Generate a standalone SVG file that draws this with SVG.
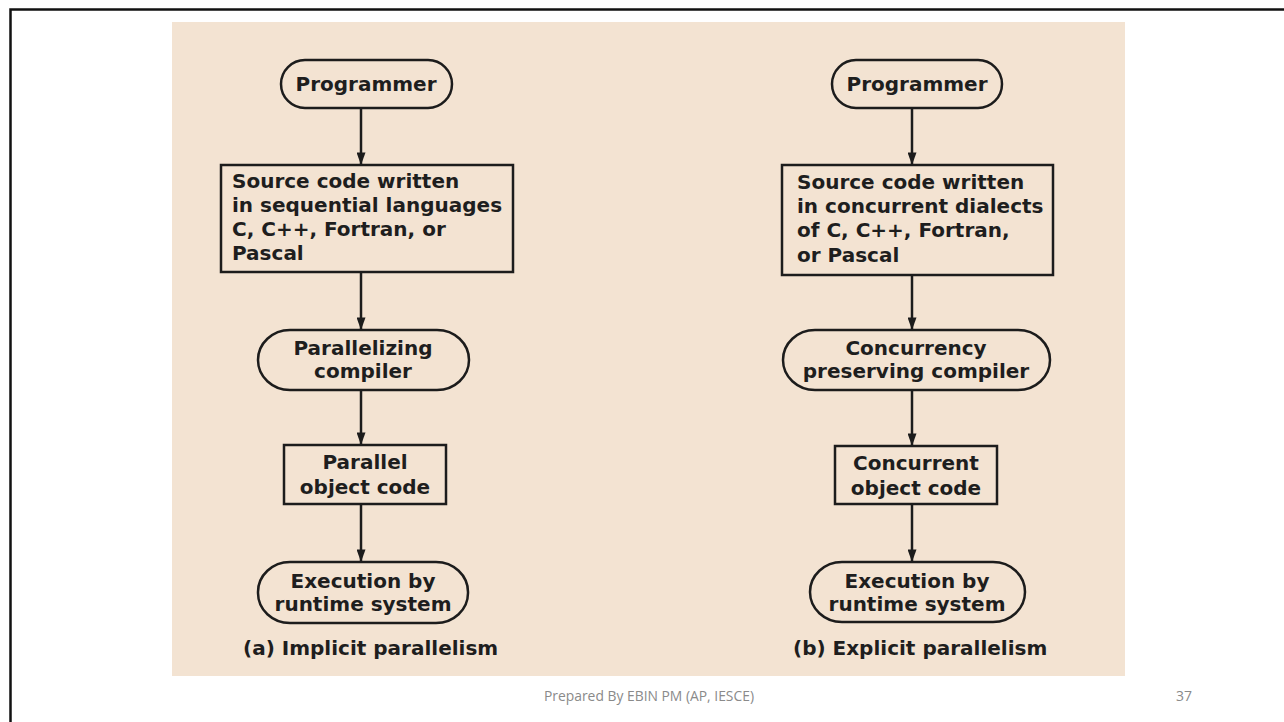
<svg xmlns="http://www.w3.org/2000/svg" width="1284" height="722" viewBox="0 0 1284 722">
  <defs>
    <marker id="arrow" viewBox="0 0 14 10" refX="14" refY="5" markerWidth="14" markerHeight="9" markerUnits="userSpaceOnUse" orient="auto">
      <path d="M0,0 L14,5 L0,10 z" fill="#1c1c1c"/>
    </marker>
    <style>
      .shape { fill: none; stroke: #1c1c1c; stroke-width: 2.5; }
      .lbl { font-family: "DejaVu Sans", "Liberation Sans", sans-serif; font-weight: bold; font-size: 20px; fill: #1e1e1e; }
      .mid { text-anchor: middle; }
      .edge { stroke: #1c1c1c; stroke-width: 2.5; fill: none; marker-end: url(#arrow); }
      .foot { font-family: "Open Sans", "Liberation Sans", sans-serif; font-size: 15px; fill: #8a8a8a; }
    </style>
  </defs>

  <rect width="1284" height="722" fill="#ffffff"/>
  <!-- slide frame -->
  <path d="M10.5,722 V9.5 H1284" fill="none" stroke="#111" stroke-width="2.5"/>

  <!-- figure backdrop -->
  <rect x="172" y="22" width="953" height="654" fill="#f3e3d2"/>

  <!-- connectors -->
  <g id="connectors">
    <line class="edge" x1="361" y1="108" x2="361" y2="165"/>
    <line class="edge" x1="361" y1="272" x2="361" y2="330"/>
    <line class="edge" x1="361" y1="390" x2="361" y2="445"/>
    <line class="edge" x1="361" y1="504" x2="361" y2="562"/>
    <line class="edge" x1="912" y1="108" x2="912" y2="165"/>
    <line class="edge" x1="912" y1="275" x2="912" y2="330"/>
    <line class="edge" x1="912" y1="390" x2="912" y2="446"/>
    <line class="edge" x1="912" y1="504" x2="912" y2="562"/>
  </g>

  <!-- (a) implicit parallelism -->
  <g id="a-programmer">
    <rect class="shape" x="281" y="60" width="171" height="48" rx="24" ry="24"/>
    <text class="lbl mid" x="366" y="91">Programmer</text>
  </g>
  <g id="a-source">
    <rect class="shape" x="221" y="165" width="292" height="107"/>
    <text class="lbl" x="232" y="188">Source code written</text>
    <text class="lbl" x="232" y="212">in sequential languages</text>
    <text class="lbl" x="232" y="236">C, C++, Fortran, or</text>
    <text class="lbl" x="232" y="260">Pascal</text>
  </g>
  <g id="a-compiler">
    <rect class="shape" x="258" y="330" width="211" height="60" rx="32" ry="30"/>
    <text class="lbl mid" x="363" y="355">Parallelizing</text>
    <text class="lbl mid" x="363" y="378">compiler</text>
  </g>
  <g id="a-object">
    <rect class="shape" x="284" y="445" width="162" height="59"/>
    <text class="lbl mid" x="365" y="469">Parallel</text>
    <text class="lbl mid" x="365" y="494">object code</text>
  </g>
  <g id="a-execution">
    <rect class="shape" x="258" y="562" width="210" height="61" rx="32" ry="30"/>
    <text class="lbl mid" x="363" y="588">Execution by</text>
    <text class="lbl mid" x="363" y="611">runtime system</text>
  </g>
  <text class="lbl" x="243" y="655">(a) Implicit parallelism</text>

  <!-- (b) explicit parallelism -->
  <g id="b-programmer">
    <rect class="shape" x="832" y="60" width="170" height="48" rx="24" ry="24"/>
    <text class="lbl mid" x="917" y="91">Programmer</text>
  </g>
  <g id="b-source">
    <rect class="shape" x="782" y="165" width="271" height="110"/>
    <text class="lbl" x="797" y="189">Source code written</text>
    <text class="lbl" x="797" y="213">in concurrent dialects</text>
    <text class="lbl" x="797" y="237">of C, C++, Fortran,</text>
    <text class="lbl" x="797" y="262">or Pascal</text>
  </g>
  <g id="b-compiler">
    <rect class="shape" x="783" y="330" width="267" height="60" rx="32" ry="30"/>
    <text class="lbl mid" x="916" y="355">Concurrency</text>
    <text class="lbl mid" x="916" y="378">preserving compiler</text>
  </g>
  <g id="b-object">
    <rect class="shape" x="835" y="446" width="162" height="58"/>
    <text class="lbl mid" x="916" y="470">Concurrent</text>
    <text class="lbl mid" x="916" y="495">object code</text>
  </g>
  <g id="b-execution">
    <rect class="shape" x="810" y="562" width="215" height="60" rx="32" ry="30"/>
    <text class="lbl mid" x="917" y="588">Execution by</text>
    <text class="lbl mid" x="917" y="611">runtime system</text>
  </g>
  <text class="lbl" x="793" y="655">(b) Explicit parallelism</text>

  <!-- footer -->
  <text class="foot" x="544" y="701" textLength="210" lengthAdjust="spacingAndGlyphs">Prepared By EBIN PM (AP, IESCE)</text>
  <text class="foot" x="1176" y="701" textLength="16" lengthAdjust="spacingAndGlyphs">37</text>
</svg>
